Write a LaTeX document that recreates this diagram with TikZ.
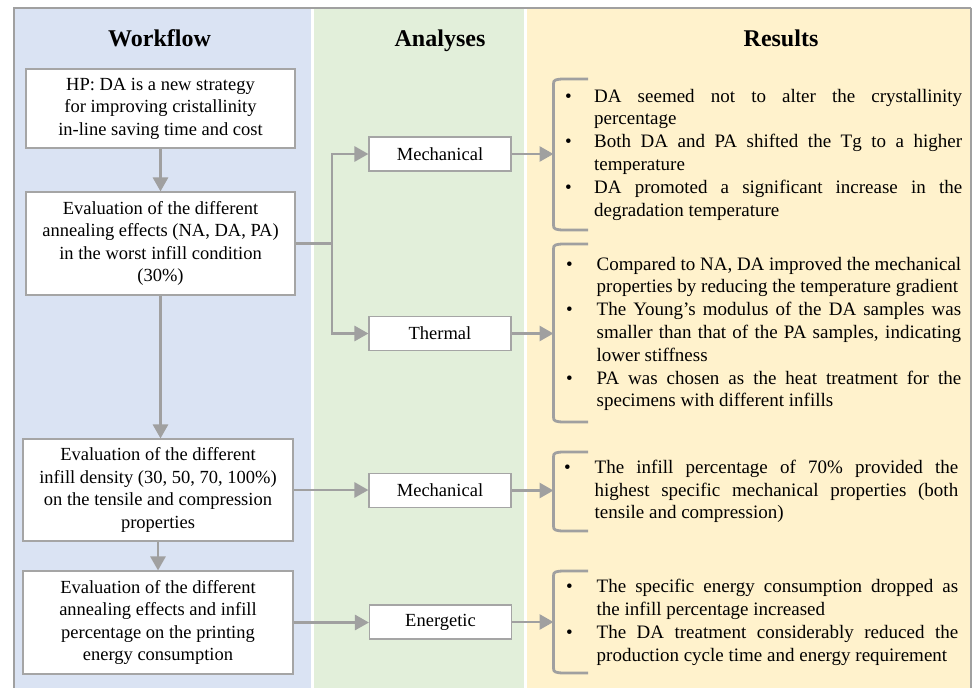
\documentclass[tikz,border=0pt]{standalone}
\usepackage{fontspec}
\setmainfont{Liberation Serif}
\usetikzlibrary{arrows.meta,calc}
\definecolor{pblue}{HTML}{DAE3F3}
\definecolor{pgreen}{HTML}{E2EFDA}
\definecolor{pyellow}{HTML}{FFF2CC}
\definecolor{lgray}{HTML}{A5A5A5}
\definecolor{fgray}{HTML}{A0A0A0}
\newlength{\bhang}
\newcommand{\bitem}[1]{\noindent\hangindent=\bhang\hangafter=1\makebox[\bhang][l]{\textbullet}#1\par}
\newcommand{\mybracket}[2]{%
  \draw[brk] (588,#1) -- (565,#1) .. controls (555,#1) and (553.5,#1+1) .. (553.5,#1+5)
    -- (553.5,#2-5) .. controls (553.5,#2-1) and (555,#2) .. (565,#2) -- (588,#2);}
\begin{document}
\begin{tikzpicture}[x=1pt,y=-1pt,
  wfbox/.style={draw=lgray, line width=1.1pt, fill=white, inner sep=0pt, align=center, font=\fontsize{18.5}{22.4}\selectfont},
  anbox/.style={draw=lgray, line width=1.1pt, fill=white, inner sep=0pt, minimum width=142pt, minimum height=34pt, font=\fontsize{18.5}{22.4}\selectfont},
  paneltitle/.style={anchor=base, inner sep=0pt, font=\fontsize{24}{28}\selectfont\bfseries},
  conn/.style={draw=fgray, line width=2.8pt},
  arr/.style={conn, -{Triangle[length=14pt,width=15pt]}},
  brk/.style={draw=fgray, line width=2.8pt, line cap=butt},
  restext/.style={inner sep=0pt, anchor=west, align=justify, font=\fontsize{19}{22.8}\selectfont}
]
\useasboundingbox (0,0) rectangle (972,688);
% panels
\fill[pblue] (14.5,8.5) rectangle (311,688);
\fill[pgreen] (314,8.5) rectangle (524,688);
\fill[pyellow] (527,8.5) rectangle (970.5,688);
% frame
\draw[fgray, line width=2pt] (13.5,688) -- (13.5,7.5) -- (971,7.5);
\draw[fgray, line width=1.4pt] (971,7.5) -- (971,688);
% titles
\node[paneltitle] (tw) at (159.5,46) {Workflow};
\node[paneltitle] (ta) at (440,46) {Analyses};
\node[paneltitle] (tr) at (781,46) {Results};
% workflow boxes
\node[wfbox, minimum width=269pt, minimum height=79pt] (b1) at (160.5,108.5)
  {HP: DA is a new strategy\\for improving cristallinity\\in-line saving time and cost};
\node[wfbox, minimum width=269pt, minimum height=103pt] (b2) at (160.5,243.5)
  {Evaluation of the different\\annealing effects (NA, DA, PA)\\in the worst infill condition\\(30\%)};
\node[wfbox, minimum width=270pt, minimum height=102pt] (b3) at (158,490)
  {Evaluation of the different\\infill density (30, 50, 70, 100\%)\\on the tensile and compression\\properties};
\node[wfbox, minimum width=270pt, minimum height=103pt] (b4) at (158,622.5)
  {Evaluation of the different\\annealing effects and infill\\percentage on the printing\\energy consumption};
% analyses boxes
\node[anbox] (m1) at (440,154) {Mechanical};
\node[anbox] (t1) at (440,333.5) {Thermal};
\node[anbox] (m2) at (440,490.5) {Mechanical};
\node[anbox] (e1) at (440.5,622) {Energetic};
% workflow arrows
\draw[arr] (b1.south) -- (b1.south |- b2.north);
\draw[arr] (b2.south) -- (b2.south |- b3.north);
\draw[arr] (b3.south) -- (b3.south |- b4.north);
% split
\coordinate (split) at (332,243.5);
\draw[conn] (b2.east) -- (split);
\draw[arr] (split) |- (m1.west);
\draw[arr] (split) |- (t1.west);
\draw[arr] (b3.east) -- (b3.east -| m2.west);
\draw[arr] (b4.east) -- (b4.east -| e1.west);
% brackets
\coordinate (r1) at (553.5,154);
\coordinate (r2) at (553.5,333.5);
\coordinate (r3) at (553.5,490.5);
\coordinate (r4) at (553.5,622);
\mybracket{79}{230}
\mybracket{244}{422}
\mybracket{452}{531}
\mybracket{571}{673}
\draw[arr] (m1.east) -- (m1.east -| r1);
\draw[arr] (t1.east) -- (t1.east -| r2);
\draw[arr] (m2.east) -- (m2.east -| r3);
\draw[arr] (e1.east) -- (e1.east -| r4);
% results text
\node[restext, text width=397pt] (x1) at (565,154.5) {\setlength{\bhang}{29pt}%
\bitem{DA seemed not to alter the crystallinity\linebreak percentage}
\bitem{Both DA and PA shifted the Tg to a higher\linebreak temperature}
\bitem{DA promoted a significant increase in the\linebreak degradation temperature}};
\node[restext, text width=395pt] (x2) at (566,334) {\setlength{\bhang}{30.5pt}%
\bitem{Compared to NA, DA improved the mechanical\linebreak properties by reducing the temperature gradient}
\bitem{The Young’s modulus of the DA samples was\linebreak smaller than that of the PA samples, indicating\linebreak lower stiffness}
\bitem{PA was chosen as the heat treatment for the\linebreak specimens with different infills}};
\node[restext, text width=394pt] (x3) at (564,491.5) {\setlength{\bhang}{30.5pt}%
\bitem{The infill percentage of 70\% provided the\linebreak highest specific mechanical properties (both\linebreak tensile and compression)}};
\node[restext, text width=392pt] (x4) at (566,622.5) {\setlength{\bhang}{30.5pt}%
\bitem{The specific energy consumption dropped as\linebreak the infill percentage increased}
\bitem{The DA treatment considerably reduced the\linebreak production cycle time and energy requirement}};
\end{tikzpicture}
\end{document}
